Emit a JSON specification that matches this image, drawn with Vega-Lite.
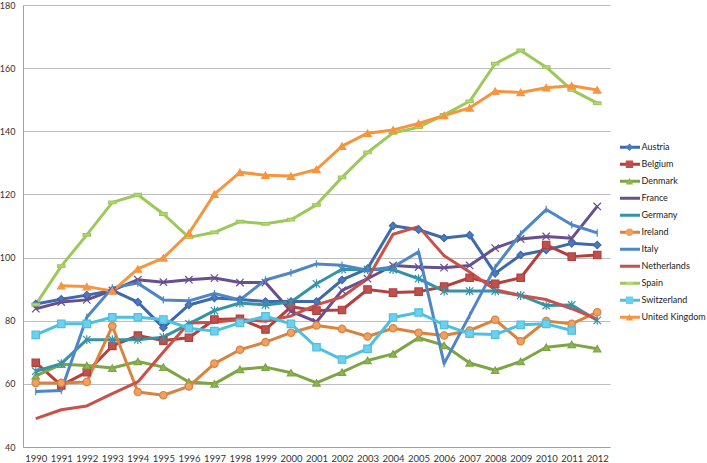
{
 "$schema": "https://vega.github.io/schema/vega-lite/v6.json",
 "width": 587,
 "height": 442,
 "autosize": {"type": "none"},
 "padding": {"left": 23, "top": 5, "right": 97, "bottom": 16},
 "background": "white",
 "config": {"view": {"stroke": null}, "font": "Lato"},
 "datasets": {
  "d": [
   {"country":"Austria","year":"1990","value":85.3},{"country":"Austria","year":"1991","value":86.8},{"country":"Austria","year":"1992","value":88.1},{"country":"Austria","year":"1993","value":89.6},{"country":"Austria","year":"1994","value":85.9},{"country":"Austria","year":"1995","value":77.8},{"country":"Austria","year":"1996","value":85},{"country":"Austria","year":"1997","value":87.2},{"country":"Austria","year":"1998","value":86.7},{"country":"Austria","year":"1999","value":86.1},{"country":"Austria","year":"2000","value":86.1},{"country":"Austria","year":"2001","value":86.1},{"country":"Austria","year":"2002","value":92.9},{"country":"Austria","year":"2003","value":96.5},{"country":"Austria","year":"2004","value":110.1},{"country":"Austria","year":"2005","value":108.8},{"country":"Austria","year":"2006","value":106.2},{"country":"Austria","year":"2007","value":107.1},{"country":"Austria","year":"2008","value":95},{"country":"Austria","year":"2009","value":100.8},{"country":"Austria","year":"2010","value":102.4},{"country":"Austria","year":"2011","value":104.5},{"country":"Austria","year":"2012","value":104},
   {"country":"Belgium","year":"1990","value":66.7},{"country":"Belgium","year":"1991","value":59.5},{"country":"Belgium","year":"1992","value":63.7},{"country":"Belgium","year":"1993","value":72},{"country":"Belgium","year":"1994","value":75.3},{"country":"Belgium","year":"1995","value":73.7},{"country":"Belgium","year":"1996","value":74.6},{"country":"Belgium","year":"1997","value":80.4},{"country":"Belgium","year":"1998","value":80.6},{"country":"Belgium","year":"1999","value":77.2},{"country":"Belgium","year":"2000","value":84.4},{"country":"Belgium","year":"2001","value":83.2},{"country":"Belgium","year":"2002","value":83.4},{"country":"Belgium","year":"2003","value":89.9},{"country":"Belgium","year":"2004","value":88.9},{"country":"Belgium","year":"2005","value":89.2},{"country":"Belgium","year":"2006","value":90.8},{"country":"Belgium","year":"2007","value":93.6},{"country":"Belgium","year":"2008","value":91.7},{"country":"Belgium","year":"2009","value":93.6},{"country":"Belgium","year":"2010","value":104},{"country":"Belgium","year":"2011","value":100.3},{"country":"Belgium","year":"2012","value":100.8},
   {"country":"Denmark","year":"1990","value":62.5},{"country":"Denmark","year":"1991","value":66.2},{"country":"Denmark","year":"1992","value":65.8},{"country":"Denmark","year":"1993","value":65},{"country":"Denmark","year":"1994","value":67.1},{"country":"Denmark","year":"1995","value":65.3},{"country":"Denmark","year":"1996","value":60.6},{"country":"Denmark","year":"1997","value":60},{"country":"Denmark","year":"1998","value":64.6},{"country":"Denmark","year":"1999","value":65.3},{"country":"Denmark","year":"2000","value":63.5},{"country":"Denmark","year":"2001","value":60.3},{"country":"Denmark","year":"2002","value":63.7},{"country":"Denmark","year":"2003","value":67.4},{"country":"Denmark","year":"2004","value":69.5},{"country":"Denmark","year":"2005","value":74.6},{"country":"Denmark","year":"2006","value":72.2},{"country":"Denmark","year":"2007","value":66.6},{"country":"Denmark","year":"2008","value":64.3},{"country":"Denmark","year":"2009","value":67.1},{"country":"Denmark","year":"2010","value":71.6},{"country":"Denmark","year":"2011","value":72.5},{"country":"Denmark","year":"2012","value":71.1},
   {"country":"France","year":"1990","value":83.8},{"country":"France","year":"1991","value":85.9},{"country":"France","year":"1992","value":86.6},{"country":"France","year":"1993","value":89.6},{"country":"France","year":"1994","value":93},{"country":"France","year":"1995","value":92.2},{"country":"France","year":"1996","value":93},{"country":"France","year":"1997","value":93.5},{"country":"France","year":"1998","value":92.1},{"country":"France","year":"1999","value":92.1},{"country":"France","year":"2000","value":83},{"country":"France","year":"2001","value":79.6},{"country":"France","year":"2002","value":89.6},{"country":"France","year":"2003","value":93.3},{"country":"France","year":"2004","value":97.5},{"country":"France","year":"2005","value":97},{"country":"France","year":"2006","value":96.8},{"country":"France","year":"2007","value":97.5},{"country":"France","year":"2008","value":103},{"country":"France","year":"2009","value":105.9},{"country":"France","year":"2010","value":106.7},{"country":"France","year":"2011","value":106.1},{"country":"France","year":"2012","value":116.2},
   {"country":"Germany","year":"1990","value":64},{"country":"Germany","year":"1991","value":66.4},{"country":"Germany","year":"1992","value":74},{"country":"Germany","year":"1993","value":74},{"country":"Germany","year":"1994","value":74},{"country":"Germany","year":"1995","value":74.8},{"country":"Germany","year":"1996","value":79},{"country":"Germany","year":"1997","value":83.2},{"country":"Germany","year":"1998","value":85.6},{"country":"Germany","year":"1999","value":85},{"country":"Germany","year":"2000","value":85.9},{"country":"Germany","year":"2001","value":91.7},{"country":"Germany","year":"2002","value":96.3},{"country":"Germany","year":"2003","value":96.2},{"country":"Germany","year":"2004","value":96.2},{"country":"Germany","year":"2005","value":93.3},{"country":"Germany","year":"2006","value":89.4},{"country":"Germany","year":"2007","value":89.4},{"country":"Germany","year":"2008","value":89.4},{"country":"Germany","year":"2009","value":88},{"country":"Germany","year":"2010","value":84.8},{"country":"Germany","year":"2011","value":85},{"country":"Germany","year":"2012","value":80.1},
   {"country":"Ireland","year":"1990","value":60.3},{"country":"Ireland","year":"1991","value":60.3},{"country":"Ireland","year":"1992","value":60.6},{"country":"Ireland","year":"1993","value":78.3},{"country":"Ireland","year":"1994","value":57.4},{"country":"Ireland","year":"1995","value":56.4},{"country":"Ireland","year":"1996","value":59.2},{"country":"Ireland","year":"1997","value":66.4},{"country":"Ireland","year":"1998","value":70.8},{"country":"Ireland","year":"1999","value":73.2},{"country":"Ireland","year":"2000","value":76.2},{"country":"Ireland","year":"2001","value":78.5},{"country":"Ireland","year":"2002","value":77.4},{"country":"Ireland","year":"2003","value":75},{"country":"Ireland","year":"2004","value":77.6},{"country":"Ireland","year":"2005","value":76.2},{"country":"Ireland","year":"2006","value":75.3},{"country":"Ireland","year":"2007","value":76.9},{"country":"Ireland","year":"2008","value":80.3},{"country":"Ireland","year":"2009","value":73.5},{"country":"Ireland","year":"2010","value":79.9},{"country":"Ireland","year":"2011","value":79},{"country":"Ireland","year":"2012","value":82.7},
   {"country":"Italy","year":"1990","value":57.6},{"country":"Italy","year":"1991","value":57.9},{"country":"Italy","year":"1992","value":81.1},{"country":"Italy","year":"1993","value":90.4},{"country":"Italy","year":"1994","value":91.9},{"country":"Italy","year":"1995","value":86.6},{"country":"Italy","year":"1996","value":86.3},{"country":"Italy","year":"1997","value":88.6},{"country":"Italy","year":"1998","value":86.6},{"country":"Italy","year":"1999","value":92.9},{"country":"Italy","year":"2000","value":95.2},{"country":"Italy","year":"2001","value":98},{"country":"Italy","year":"2002","value":97.6},{"country":"Italy","year":"2003","value":96},{"country":"Italy","year":"2004","value":97},{"country":"Italy","year":"2005","value":101.8},{"country":"Italy","year":"2006","value":66.4},{"country":"Italy","year":"2007","value":81.7},{"country":"Italy","year":"2008","value":96.9},{"country":"Italy","year":"2009","value":107.5},{"country":"Italy","year":"2010","value":115.2},{"country":"Italy","year":"2011","value":110.4},{"country":"Italy","year":"2012","value":107.8},
   {"country":"Netherlands","year":"1990","value":49},{"country":"Netherlands","year":"1991","value":51.8},{"country":"Netherlands","year":"1992","value":53},{"country":"Netherlands","year":"1993","value":56.9},{"country":"Netherlands","year":"1994","value":60.6},{"country":"Netherlands","year":"1995","value":70.1},{"country":"Netherlands","year":"1996","value":79.3},{"country":"Netherlands","year":"1997","value":79.5},{"country":"Netherlands","year":"1998","value":80.4},{"country":"Netherlands","year":"1999","value":79.8},{"country":"Netherlands","year":"2000","value":81.5},{"country":"Netherlands","year":"2001","value":85},{"country":"Netherlands","year":"2002","value":87.5},{"country":"Netherlands","year":"2003","value":93.3},{"country":"Netherlands","year":"2004","value":107.4},{"country":"Netherlands","year":"2005","value":109.8},{"country":"Netherlands","year":"2006","value":100.6},{"country":"Netherlands","year":"2007","value":95.4},{"country":"Netherlands","year":"2008","value":89.8},{"country":"Netherlands","year":"2009","value":88},{"country":"Netherlands","year":"2010","value":86.7},{"country":"Netherlands","year":"2011","value":83.8},{"country":"Netherlands","year":"2012","value":80.5},
   {"country":"Spain","year":"1990","value":85.1},{"country":"Spain","year":"1991","value":97.3},{"country":"Spain","year":"1992","value":107.2},{"country":"Spain","year":"1993","value":117.5},{"country":"Spain","year":"1994","value":119.9},{"country":"Spain","year":"1995","value":113.8},{"country":"Spain","year":"1996","value":106.4},{"country":"Spain","year":"1997","value":108},{"country":"Spain","year":"1998","value":111.4},{"country":"Spain","year":"1999","value":110.7},{"country":"Spain","year":"2000","value":112},{"country":"Spain","year":"2001","value":116.7},{"country":"Spain","year":"2002","value":125.4},{"country":"Spain","year":"2003","value":133.3},{"country":"Spain","year":"2004","value":139.5},{"country":"Spain","year":"2005","value":141.3},{"country":"Spain","year":"2006","value":145.2},{"country":"Spain","year":"2007","value":149.5},{"country":"Spain","year":"2008","value":161.4},{"country":"Spain","year":"2009","value":165.6},{"country":"Spain","year":"2010","value":160.3},{"country":"Spain","year":"2011","value":153.1},{"country":"Spain","year":"2012","value":148.9},
   {"country":"Switzerland","year":"1990","value":75.5},{"country":"Switzerland","year":"1991","value":79},{"country":"Switzerland","year":"1992","value":79},{"country":"Switzerland","year":"1993","value":81.1},{"country":"Switzerland","year":"1994","value":81.1},{"country":"Switzerland","year":"1995","value":80.4},{"country":"Switzerland","year":"1996","value":77.6},{"country":"Switzerland","year":"1997","value":76.7},{"country":"Switzerland","year":"1998","value":79.3},{"country":"Switzerland","year":"1999","value":81.4},{"country":"Switzerland","year":"2000","value":79},{"country":"Switzerland","year":"2001","value":71.6},{"country":"Switzerland","year":"2002","value":67.7},{"country":"Switzerland","year":"2003","value":71.1},{"country":"Switzerland","year":"2004","value":81},{"country":"Switzerland","year":"2005","value":82.6},{"country":"Switzerland","year":"2006","value":78.7},{"country":"Switzerland","year":"2007","value":75.9},{"country":"Switzerland","year":"2008","value":75.6},{"country":"Switzerland","year":"2009","value":78.7},{"country":"Switzerland","year":"2010","value":79},{"country":"Switzerland","year":"2011","value":76.9},
   {"country":"United Kingdom","year":"1991","value":91.1},{"country":"United Kingdom","year":"1992","value":90.8},{"country":"United Kingdom","year":"1993","value":89.4},{"country":"United Kingdom","year":"1994","value":96.4},{"country":"United Kingdom","year":"1995","value":99.9},{"country":"United Kingdom","year":"1996","value":107.7},{"country":"United Kingdom","year":"1997","value":120.1},{"country":"United Kingdom","year":"1998","value":127},{"country":"United Kingdom","year":"1999","value":126.1},{"country":"United Kingdom","year":"2000","value":125.8},{"country":"United Kingdom","year":"2001","value":127.9},{"country":"United Kingdom","year":"2002","value":135.3},{"country":"United Kingdom","year":"2003","value":139.4},{"country":"United Kingdom","year":"2004","value":140.4},{"country":"United Kingdom","year":"2005","value":142.5},{"country":"United Kingdom","year":"2006","value":145},{"country":"United Kingdom","year":"2007","value":147.4},{"country":"United Kingdom","year":"2008","value":152.7},{"country":"United Kingdom","year":"2009","value":152.3},{"country":"United Kingdom","year":"2010","value":153.8},{"country":"United Kingdom","year":"2011","value":154.4},{"country":"United Kingdom","year":"2012","value":153.1}
  ]
 },
 "data": {"name": "d"},
 "encoding": {
  "x": {"field": "year", "type": "ordinal", "scale": {"type": "point", "padding": 0.5},
        "axis": {"title": null, "labelAngle": 0, "ticks": false, "labelPadding": 6, "domainColor": "#a0a0a0", "labelFontSize": 9.5, "labelColor": "#333333", "labelFont": "Lato"}},
  "y": {"field": "value", "type": "quantitative", "scale": {"domain": [40, 180], "nice": false, "zero": false},
        "axis": {"title": null, "values": [40, 60, 80, 100, 120, 140, 160, 180], "grid": true, "gridColor": "#bdbdbd", "ticks": false, "labelPadding": 8, "domainColor": "#a0a0a0", "labelFontSize": 9, "labelColor": "#333333", "labelFont": "Lato"}}
 },
 "layer": [
  {
   "mark": {"type": "line", "strokeWidth": 3, "strokeJoin": "round"},
   "encoding": {
    "stroke": {"field": "country", "type": "nominal",
      "scale": {"domain": ["Austria","Belgium","Denmark","France","Germany","Ireland","Italy","Netherlands","Spain","Switzerland","United Kingdom"],
                "range": ["#3D6AAE","#B3403C","#7EA544","#67508F","#3593A8","#D9833F","#4E86C8","#C9504B","#9CC95A","#4CC0E0","#F7953F"]},
      "legend": {"orient": "none", "legendX": 595.5, "legendY": 135.8, "title": null, "symbolType": "stroke", "symbolSize": 400, "symbolStrokeWidth": 3, "clipHeight": 13, "rowPadding": 4, "labelOffset": 0, "labelFontSize": 9, "labelColor": "#222222", "labelFont": "Lato", "labelLimit": 200, "padding": 0}}
   }
  },
  {
   "mark": {"type": "point", "filled": true, "opacity": 1, "strokeWidth": 1.2, "size": 55},
   "encoding": {
    "color": {"field": "country", "type": "nominal",
      "scale": {"range": ["#4A7AC0","#C0504D","#8DB453","#67508F","#3593A8","#F0A060","#4E86C8","#C9504B","#B5D97A","#6FD0EE","#F7953F"]},
      "legend": {"orient": "none", "legendX": 602, "legendY": 135.8, "title": null, "symbolSize": 55, "symbolStrokeWidth": 1.2, "clipHeight": 13, "rowPadding": 4, "labelExpr": "''", "labelFontSize": 9, "padding": 0,
        "encode": {"symbols": {"update": {"stroke": {"scale": "stroke", "field": "value"}, "opacity": {"value": 1}}}}}},
    "shape": {"field": "country", "type": "nominal",
      "scale": {"range": ["diamond", "square", "triangle-up", "M-1,-1L1,1M-1,1L1,-1", "M-1,-1L1,1M-1,1L1,-1M0,-1.2L0,1.2", "circle", "M0,-1L0,1", "M0,0", "M-1,-0.35L1,-0.35L1,0.35L-1,0.35Z", "square", "triangle-up"]},
      "legend": {"orient": "none", "legendX": 602, "legendY": 135.8, "title": null, "symbolSize": 55, "symbolStrokeWidth": 1.2, "clipHeight": 13, "rowPadding": 4, "labelExpr": "''", "labelFontSize": 9, "padding": 0}},
    "stroke": {"field": "country", "type": "nominal", "legend": null}
   }
  }
 ]
}
